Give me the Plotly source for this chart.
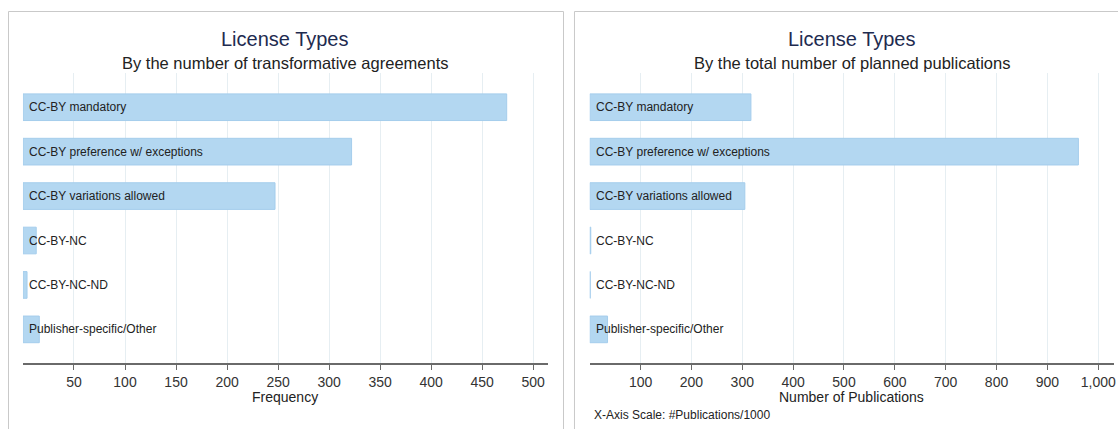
import plotly.graph_objects as go

# ---- data ----
categories = ["CC-BY mandatory", "CC-BY preference w/ exceptions", "CC-BY variations allowed",
              "CC-BY-NC", "CC-BY-NC-ND", "Publisher-specific/Other"]
agreements = [474, 322, 247, 13, 4, 16]
publications = [317, 961, 305, 2, 1, 35]

left_ticks = [50, 100, 150, 200, 250, 300, 350, 400, 450, 500]
right_ticks = [100, 200, 300, 400, 500, 600, 700, 800, 900, 1000]

titles = ["License Types", "License Types"]
subtitles = ["By the number of transformative agreements", "By the total number of planned publications"]
xtitles = ["Frequency", "Number of Publications"]
note = "X-Axis Scale: #Publications/1000"

W, H = 1118, 429
def px(x): return x / W
def py(y): return 1 - y / H

FONT = "Liberation Sans, Arial, sans-serif"
BAR_FILL = "#b3d7f1"
BAR_LINE = "#a5cdec"
GRID = "#e6eef2"
AXIS = "#6a6a6a"

ypos = list(range(len(categories)))

fig = go.Figure()
fig.add_trace(go.Bar(x=agreements, y=ypos, orientation="h", width=0.6,
                     marker=dict(color=BAR_FILL, line=dict(color=BAR_LINE, width=1)),
                     xaxis="x", yaxis="y", showlegend=False, hoverinfo="x"))
fig.add_trace(go.Bar(x=publications, y=ypos, orientation="h", width=0.6,
                     marker=dict(color=BAR_FILL, line=dict(color=BAR_LINE, width=1)),
                     xaxis="x2", yaxis="y2", showlegend=False, hoverinfo="x"))

plot_top, plot_bot = 73, 362.7
ydom = [py(plot_bot), py(plot_top)]
l_x0, l_x1 = 23.0, 549.0
r_x0, r_x1 = 590.8, 1116.0

xcommon = dict(showgrid=True, gridcolor=GRID, gridwidth=1, zeroline=False,
               showline=True, linecolor=AXIS, linewidth=1.5,
               ticks="outside", ticklen=6, tickcolor=AXIS, tickwidth=1,
               tickfont=dict(family=FONT, size=14, color="#333333"), fixedrange=True)
ycommon = dict(showgrid=False, zeroline=False, showline=False, showticklabels=False,
               range=[5.75, -0.77], fixedrange=True)

fig.update_layout(
    width=W, height=H, margin=dict(l=0, r=0, t=0, b=0),
    paper_bgcolor="white", plot_bgcolor="white",
    xaxis=dict(domain=[px(l_x0), px(l_x1)], range=[0, 514.5], tickvals=left_ticks,
               anchor="y", **xcommon),
    yaxis=dict(domain=ydom, anchor="x", **ycommon),
    xaxis2=dict(domain=[px(r_x0), px(r_x1)], range=[0, 1031], tickvals=right_ticks,
                tickformat=",", anchor="y2", **xcommon),
    yaxis2=dict(domain=ydom, anchor="x2", **ycommon),
    bargap=0.4,
)

annotations = []
centers = [(l_x0 + l_x1) / 2, (r_x0 + r_x1) / 2]
for i in range(2):
    annotations.append(dict(text=titles[i], x=px(centers[i]), y=py(39), xref="paper", yref="paper",
                            xanchor="center", yanchor="middle", showarrow=False,
                            font=dict(family=FONT, size=20, color="#1e2b50")))
    annotations.append(dict(text=subtitles[i], x=px(centers[i]), y=py(63), xref="paper", yref="paper",
                            xanchor="center", yanchor="middle", showarrow=False,
                            font=dict(family=FONT, size=16.5, color="#222222")))
    annotations.append(dict(text=xtitles[i], x=px(centers[i]), y=py(396.5), xref="paper", yref="paper",
                            xanchor="center", yanchor="middle", showarrow=False,
                            font=dict(family=FONT, size=14, color="#222222")))
    xr = "x" if i == 0 else "x2"
    yr = "y" if i == 0 else "y2"
    for j, c in enumerate(categories):
        annotations.append(dict(text=c, x=0, y=ypos[j], xref=xr, yref=yr, xanchor="left",
                                yanchor="middle", xshift=4, showarrow=False,
                                font=dict(family=FONT, size=12, color="#222222")))
annotations.append(dict(text=note, x=px(593), y=py(415), xref="paper", yref="paper",
                        xanchor="left", yanchor="middle", showarrow=False,
                        font=dict(family=FONT, size=12, color="#222222")))
fig.update_layout(annotations=annotations)

BORDER = "#c9c9c9"
shapes = []
def line(x0, y0, x1, y1):
    shapes.append(dict(type="line", xref="paper", yref="paper", x0=px(x0), y0=py(y0),
                       x1=px(x1), y1=py(y1), line=dict(color=BORDER, width=1)))
# left panel
line(8.5, 11.5, 8.5, 440)
line(8.5, 11.5, 564.5, 11.5)
line(564.5, 11.5, 564.5, 440)
# right panel
line(575.5, 11.5, 575.5, 440)
line(575.5, 11.5, 1130, 11.5)
fig.update_layout(shapes=shapes)

fig.write_html("out.html", config={"displayModeBar": False},
               post_script="document.body.style.margin='0';document.body.style.overflow='hidden';")
